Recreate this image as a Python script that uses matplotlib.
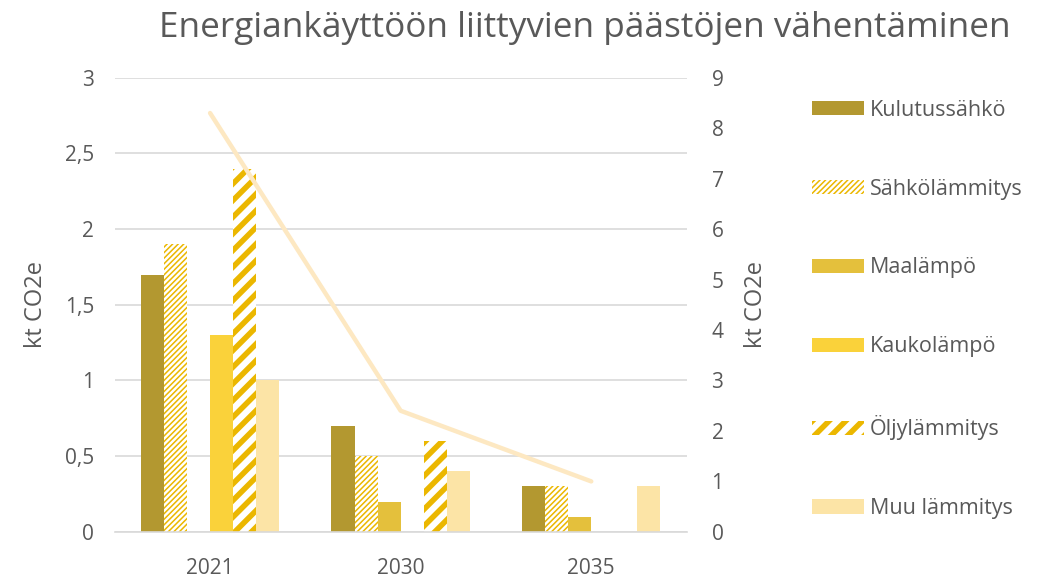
import matplotlib
matplotlib.use("Agg")
import matplotlib.pyplot as plt
import numpy as np
from matplotlib.patches import Patch

plt.rcParams['font.family'] = ['Open Sans', 'DejaVu Sans']

years = ['2021', '2030', '2035']
series_names = ['Kulutussähkö', 'Sähkölämmitys', 'Maalämpö', 'Kaukolämpö', 'Öljylämmitys', 'Muu lämmitys']
kulutussahko = [1.7, 0.7, 0.3]
sahkolammitys = [1.9, 0.5, 0.3]
maalampo = [0.0, 0.2, 0.1]
kaukolampo = [1.3, 0.0, 0.0]
oljylammitys = [2.4, 0.6, 0.0]
muu_lammitys = [1.0, 0.4, 0.3]
total_line = [8.3, 2.4, 1.0]

series_values = [kulutussahko, sahkolammitys, maalampo, kaukolampo, oljylammitys, muu_lammitys]
styles = [
    dict(color='#B39830'),
    dict(facecolor='white', edgecolor='#EBB700', hatch='//////', hlw=1.1),
    dict(color='#E4C03C'),
    dict(color='#FAD23A'),
    dict(facecolor='white', edgecolor='#EBB700', hatch='//', hlw=4.0),
    dict(color='#FCE4A6'),
]

fig = plt.figure(figsize=(10.53, 5.8), dpi=100)
ax = fig.add_axes([0.109, 0.083, 0.543, 0.783])
ax2 = ax.twinx()

x = np.arange(len(years))
w = 0.121
bars_for_legend = []
for k, (vals, st) in enumerate(zip(series_values, styles)):
    pos = x + (k - 2.5) * w
    if 'hatch' in st:
        with plt.rc_context({'hatch.linewidth': st['hlw']}):
            bc = ax.bar(pos, vals, w, facecolor='white', edgecolor=st['edgecolor'],
                        hatch=st['hatch'], linewidth=0, zorder=2)
            for p in bc:
                if hasattr(p, 'set_hatch_linewidth'):
                    p.set_hatch_linewidth(st['hlw'])
            h = Patch(facecolor='white', edgecolor=st['edgecolor'], hatch=st['hatch'], linewidth=0)
            if hasattr(h, 'set_hatch_linewidth'):
                h.set_hatch_linewidth(st['hlw'])
    else:
        ax.bar(pos, vals, w, color=st['color'], linewidth=0, zorder=2)
        h = Patch(facecolor=st['color'], linewidth=0)
    bars_for_legend.append(h)

ax2.plot(x, total_line, color='#FDE8C2', linewidth=3.2, solid_capstyle='round', zorder=5)

ax.set_xlim(-0.5, 2.5)
ax.set_ylim(0, 3)
ax2.set_ylim(0, 9)
ax.set_yticks(np.arange(0, 3.01, 0.5))
ax.set_yticklabels(['0', '0,5', '1', '1,5', '2', '2,5', '3'])
ax2.set_yticks(np.arange(0, 10, 1))
ax.set_xticks(x)
ax.set_xticklabels(years)

ax.set_axisbelow(True)
ax.yaxis.grid(True, color='#D9D9D9', linewidth=1.2)
for a in (ax, ax2):
    for s in a.spines.values():
        s.set_visible(False)
ax.spines['bottom'].set_visible(True)
ax.spines['bottom'].set_color('#D9D9D9')
ax.spines['bottom'].set_linewidth(1.2)
ax.tick_params(axis='x', length=0, labelsize=15, colors='#595959', pad=19)
ax.tick_params(axis='y', length=0, labelsize=15, colors='#595959', pad=15)
ax2.tick_params(axis='y', length=0, labelsize=15, colors='#595959', pad=18)

ax.set_ylabel('kt CO2e', fontsize=17, color='#595959', labelpad=12)
ax2.set_ylabel('kt CO2e', fontsize=17, color='#595959', labelpad=15)

fig.text(0.5556, 0.952, 'Energiankäyttöön liittyvien päästöjen vähentäminen',
         ha='center', va='center', fontsize=25.3, color='#595959')

leg = fig.legend(bars_for_legend, series_names, loc='upper left',
                 bbox_to_anchor=(0.763, 0.843), frameon=False, fontsize=15.5,
                 handlelength=2.4, handleheight=0.65, labelspacing=2.69,
                 handletextpad=0.3, labelcolor='#595959', borderaxespad=0)
for lp, st in zip(leg.get_patches(), styles):
    if 'hatch' in st and hasattr(lp, 'set_hatch_linewidth'):
        lp.set_hatch_linewidth(st['hlw'])

fig.savefig('out.png', dpi=100)
